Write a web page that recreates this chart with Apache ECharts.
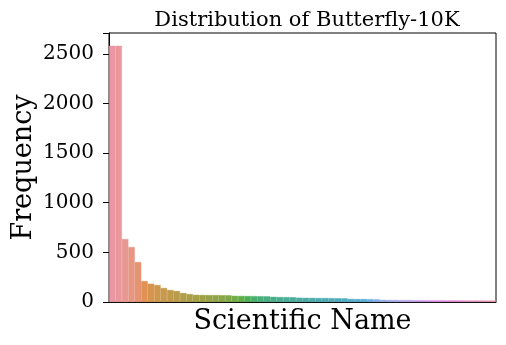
<!DOCTYPE html>
<html>
<head>
<meta charset="utf-8">
<script src="https://cdn.jsdelivr.net/npm/echarts@6/dist/echarts.min.js"></script>
<style>html,body{margin:0;padding:0;background:#fff;}#c{width:506px;height:345px;}</style>
</head>
<body>
<div id="c"></div>
<script>
// ---- data ----
const title = 'Distribution of Butterfly-10K';
const xLabel = 'Scientific Name';
const yLabel = 'Frequency';
const counts = [
  2580, 2580, 634, 553, 402, 211, 184, 171, 141, 121, 111, 91, 80,
  72, 71, 70, 70, 69, 68,
  62, 61, 60, 59, 58, 57,
  52, 50, 49, 48,
  43, 42, 41, 40, 40, 39, 38, 37,
  31, 30, 30, 29, 28,
  22, 21, 21, 20, 20, 19, 19, 18, 18, 18, 17, 17, 17, 16, 16, 16, 15, 15
];
const categories = counts.map((_, i) => 'Species ' + (i + 1));
const yTicks = [0, 500, 1000, 1500, 2000, 2500];

// ---- seaborn-style husl palette (desaturated 0.75) ----
const M = [[3.2406, -1.5372, -0.4986], [-0.9689, 1.8758, 0.0415], [0.0557, -0.2040, 1.0570]];
const refU = 0.19784, refV = 0.46834, kappa = 903.2963, eps = 0.0088564;
function maxChroma(L, H) {
  const hr = H / 360 * 2 * Math.PI, sH = Math.sin(hr), cH = Math.cos(hr);
  const s1 = Math.pow(L + 16, 3) / 1560896;
  const s2 = s1 > eps ? s1 : L / kappa;
  let res = Infinity;
  for (const [m1, m2, m3] of M) {
    const top = (0.99915 * m1 + 1.05122 * m2 + 1.14460 * m3) * s2;
    const rb = 0.86330 * m3 - 0.17266 * m2;
    const lb = 0.12949 * m3 - 0.38848 * m1;
    const bottom = (rb * sH + lb * cH) * s2;
    for (const t of [0, 1]) {
      const C = L * (top - 1.05122 * t) / (bottom + 0.17266 * sH * t);
      if (C > 0 && C < res) res = C;
    }
  }
  return res;
}
function fromLinear(c) { return c <= 0.0031308 ? 12.92 * c : 1.055 * Math.pow(c, 1 / 2.4) - 0.055; }
function huslToRgb(H, S, L) {
  const C = maxChroma(L, H) / 100 * S;
  const hr = H / 360 * 2 * Math.PI;
  const U = Math.cos(hr) * C, V = Math.sin(hr) * C;
  const t = (L + 16) / 116;
  const varY = Math.pow(t, 3) > 0.008856 ? Math.pow(t, 3) : (116 * t - 16) / 903.3;
  const vU = U / (13 * L) + refU, vV = V / (13 * L) + refV;
  const Y = varY;
  const X = -(9 * Y * vU) / ((vU - 4) * vV - vU * vV);
  const Z = (9 * Y - 15 * vV * Y - vV * X) / (3 * vV);
  return M.map(r => Math.min(1, Math.max(0, fromLinear(r[0] * X + r[1] * Y + r[2] * Z))));
}
function desat(rgb, p) {
  const [r, g, b] = rgb;
  const mx = Math.max(r, g, b), mn = Math.min(r, g, b);
  const l = (mx + mn) / 2;
  if (mx === mn) return rgb;
  let s = l <= 0.5 ? (mx - mn) / (mx + mn) : (mx - mn) / (2 - mx - mn);
  const rc = (mx - r) / (mx - mn), gc = (mx - g) / (mx - mn), bc = (mx - b) / (mx - mn);
  let h;
  if (r === mx) h = bc - gc; else if (g === mx) h = 2 + rc - bc; else h = 4 + gc - rc;
  h = ((h / 6) % 1 + 1) % 1;
  s *= p;
  const m2 = l <= 0.5 ? l * (1 + s) : l + s - l * s;
  const m1 = 2 * l - m2;
  const v = (hh) => {
    hh = ((hh % 1) + 1) % 1;
    if (hh < 1 / 6) return m1 + (m2 - m1) * hh * 6;
    if (hh < 0.5) return m2;
    if (hh < 2 / 3) return m1 + (m2 - m1) * (2 / 3 - hh) * 6;
    return m1;
  };
  return [v(h + 1 / 3), v(h), v(h - 1 / 3)];
}
const n = counts.length;
const colors = counts.map((_, i) => {
  const hue = ((i / n + 0.01) % 1) * 359;
  const c = desat(huslToRgb(hue, 0.9 * 99, 0.7 * 99), 0.75);
  return 'rgb(' + c.map(x => Math.round(x * 255)).join(',') + ')';
});

const font = '"DejaVu Serif", serif';
const chart = echarts.init(document.getElementById('c'));
chart.setOption({
  animation: false,
  title: {
    text: title, left: 302, top: 5, textAlign: 'center',
    textStyle: { fontFamily: font, fontSize: 21, fontWeight: 'normal', color: '#000' }
  },
  grid: {
    left: 109, right: 10, top: 33, bottom: 43, outerBoundsMode: 'none', containLabel: false,
    show: true, borderColor: '#000', borderWidth: 1, backgroundColor: 'transparent'
  },
  xAxis: {
    type: 'category', data: categories, boundaryGap: true,
    name: xLabel, nameLocation: 'middle', nameGap: 6, nameMoveOverlap: false,
    nameTextStyle: { fontFamily: font, fontSize: 27, color: '#000', verticalAlign: 'top' },
    axisLine: { show: true, lineStyle: { color: '#000', width: 1 } },
    axisTick: { show: false }, axisLabel: { show: false }, splitLine: { show: false }
  },
  yAxis: {
    type: 'value', min: 0, max: 2709, interval: 500,
    name: yLabel, nameLocation: 'middle', nameGap: 72, nameMoveOverlap: false,
    nameTextStyle: { fontFamily: font, fontSize: 27, color: '#000' },
    axisLine: { show: true, lineStyle: { color: '#000', width: 1 } },
    axisTick: { show: true, length: 6, lineStyle: { color: '#000' } },
    axisLabel: {
      fontFamily: font, fontSize: 20, color: '#000', margin: 15,
      formatter: v => yTicks.includes(v) ? String(v) : ''
    },
    splitLine: { show: false }
  },
  series: [{
    type: 'bar', barCategoryGap: '0%', barGap: '0%',
    data: counts.map((v, i) => ({
      value: v,
      itemStyle: { color: colors[i], borderColor: colors[i], borderWidth: 0.4 }
    }))
  }]
});
</script>
</body>
</html>
